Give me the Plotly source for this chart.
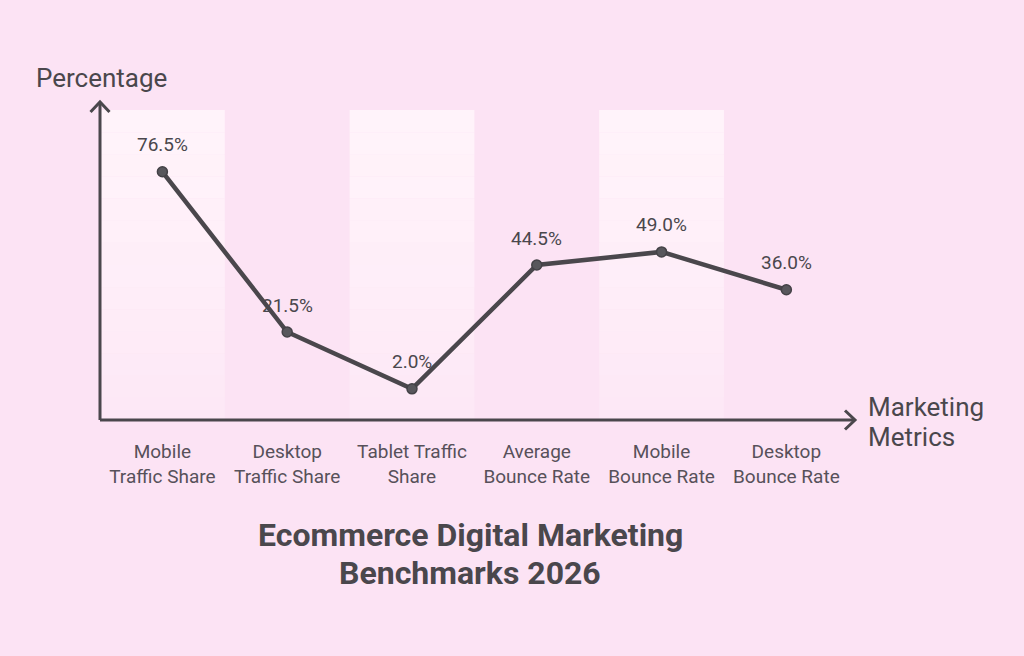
import plotly.graph_objects as go

categories = ["Mobile Traffic Share", "Desktop Traffic Share", "Tablet Traffic Share",
              "Average Bounce Rate", "Mobile Bounce Rate", "Desktop Bounce Rate"]
tick_labels = ["Mobile<br>Traffic Share", "Desktop<br>Traffic Share", "Tablet Traffic<br>Share",
               "Average<br>Bounce Rate", "Mobile<br>Bounce Rate", "Desktop<br>Bounce Rate"]
values = [76.5, 21.5, 2.0, 44.5, 49.0, 36.0]
value_labels = ["76.5%", "21.5%", "2.0%", "44.5%", "49.0%", "36.0%"]
band_index = [0, 2, 4]
title_lines = ["Ecommerce Digital Marketing", "Benchmarks 2026"]
x_title_lines = ["Marketing", "Metrics"]

W, H = 1024, 656
L, R, T, B = 100, 169, 103, 236
PW, PH = W - L - R, H - T - B
BG = "#FCE3F4"
INK = "#4A474C"
FONT = "Roboto"

def px(xp):
    return (xp - L) / PW

def py(yp):
    return (H - B - yp) / PH

idx = list(range(len(categories)))

fig = go.Figure()
fig.add_trace(go.Scatter(
    x=idx, y=values, mode="lines+markers",
    line=dict(color=INK, width=4.5),
    marker=dict(size=10, color="#58575C", line=dict(color="#444247", width=1.5)),
    hoverinfo="skip", showlegend=False,
))

shapes = []
# light bands with a fade toward the bottom
n = 14
top = py(110)
for b in band_index:
    for k in range(n):
        y0 = top * k / n
        y1 = top * (k + 1) / n
        op = 0.15 + 0.85 * ((k + 1) / n) ** 0.7
        shapes.append(dict(type="rect", xref="x", yref="paper",
                           x0=b - 0.5, x1=b + 0.5, y0=y0, y1=y1,
                           fillcolor="#FFF3FA", opacity=op, line=dict(width=0),
                           layer="below"))

# axes with open chevron arrowheads
shapes.append(dict(type="line", xref="paper", yref="paper", x0=0, x1=0, y0=0, y1=py(102),
                   line=dict(color=INK, width=3)))
shapes.append(dict(type="line", xref="paper", yref="paper", x0=0, x1=px(855), y0=0, y1=0,
                   line=dict(color=INK, width=3)))
shapes.append(dict(type="path", xref="paper", yref="paper",
                   path=f"M {px(90.5)},{py(112)} L {px(100)},{py(102)} L {px(109.5)},{py(112)}",
                   line=dict(color=INK, width=3)))
shapes.append(dict(type="path", xref="paper", yref="paper",
                   path=f"M {px(845)},{py(410.5)} L {px(855)},{py(420)} L {px(845)},{py(429.5)}",
                   line=dict(color=INK, width=3)))

annotations = []
for i, v, t in zip(idx, values, value_labels):
    annotations.append(dict(x=i, y=v, xref="x", yref="y", text=t, showarrow=False,
                            yshift=27, font=dict(family=FONT, size=19, color=INK)))

annotations.append(dict(x=px(34), y=py(78), xref="paper", yref="paper", text="Percentage",
                        showarrow=False, xanchor="left", yanchor="middle",
                        font=dict(family=FONT, size=26, color=INK)))
for line, yp in zip(x_title_lines, [407, 437]):
    annotations.append(dict(x=px(866), y=py(yp), xref="paper", yref="paper",
                            text=line, showarrow=False,
                            xanchor="left", yanchor="middle", align="left",
                            font=dict(family=FONT, size=26, color=INK)))
for line, yp in zip(title_lines, [535, 573]):
    annotations.append(dict(x=px(470), y=py(yp), xref="paper", yref="paper",
                            text=f"<b>{line}</b>",
                            showarrow=False, xanchor="center", yanchor="middle", align="center",
                            font=dict(family=FONT, size=32, color=INK)))

fig.update_layout(
    width=W, height=H,
    margin=dict(l=L, r=R, t=T, b=B, pad=0),
    paper_bgcolor=BG, plot_bgcolor=BG,
    shapes=shapes, annotations=annotations,
    xaxis=dict(range=[-0.5, 5.55], tickvals=idx, ticktext=tick_labels,
               showgrid=False, zeroline=False, showline=False,
               ticks="outside", ticklen=14, tickcolor="rgba(0,0,0,0)",
               tickfont=dict(family=FONT, size=19, color="#57515A"), fixedrange=True),
    yaxis=dict(range=[-8.7, 100.1], showgrid=False, zeroline=False, showline=False,
               showticklabels=False, ticks="", fixedrange=True),
    showlegend=False,
)

fig.write_html("out.html", config={"displayModeBar": False},
               post_script="document.body.style.margin='0';document.body.style.background='" + BG + "';")
